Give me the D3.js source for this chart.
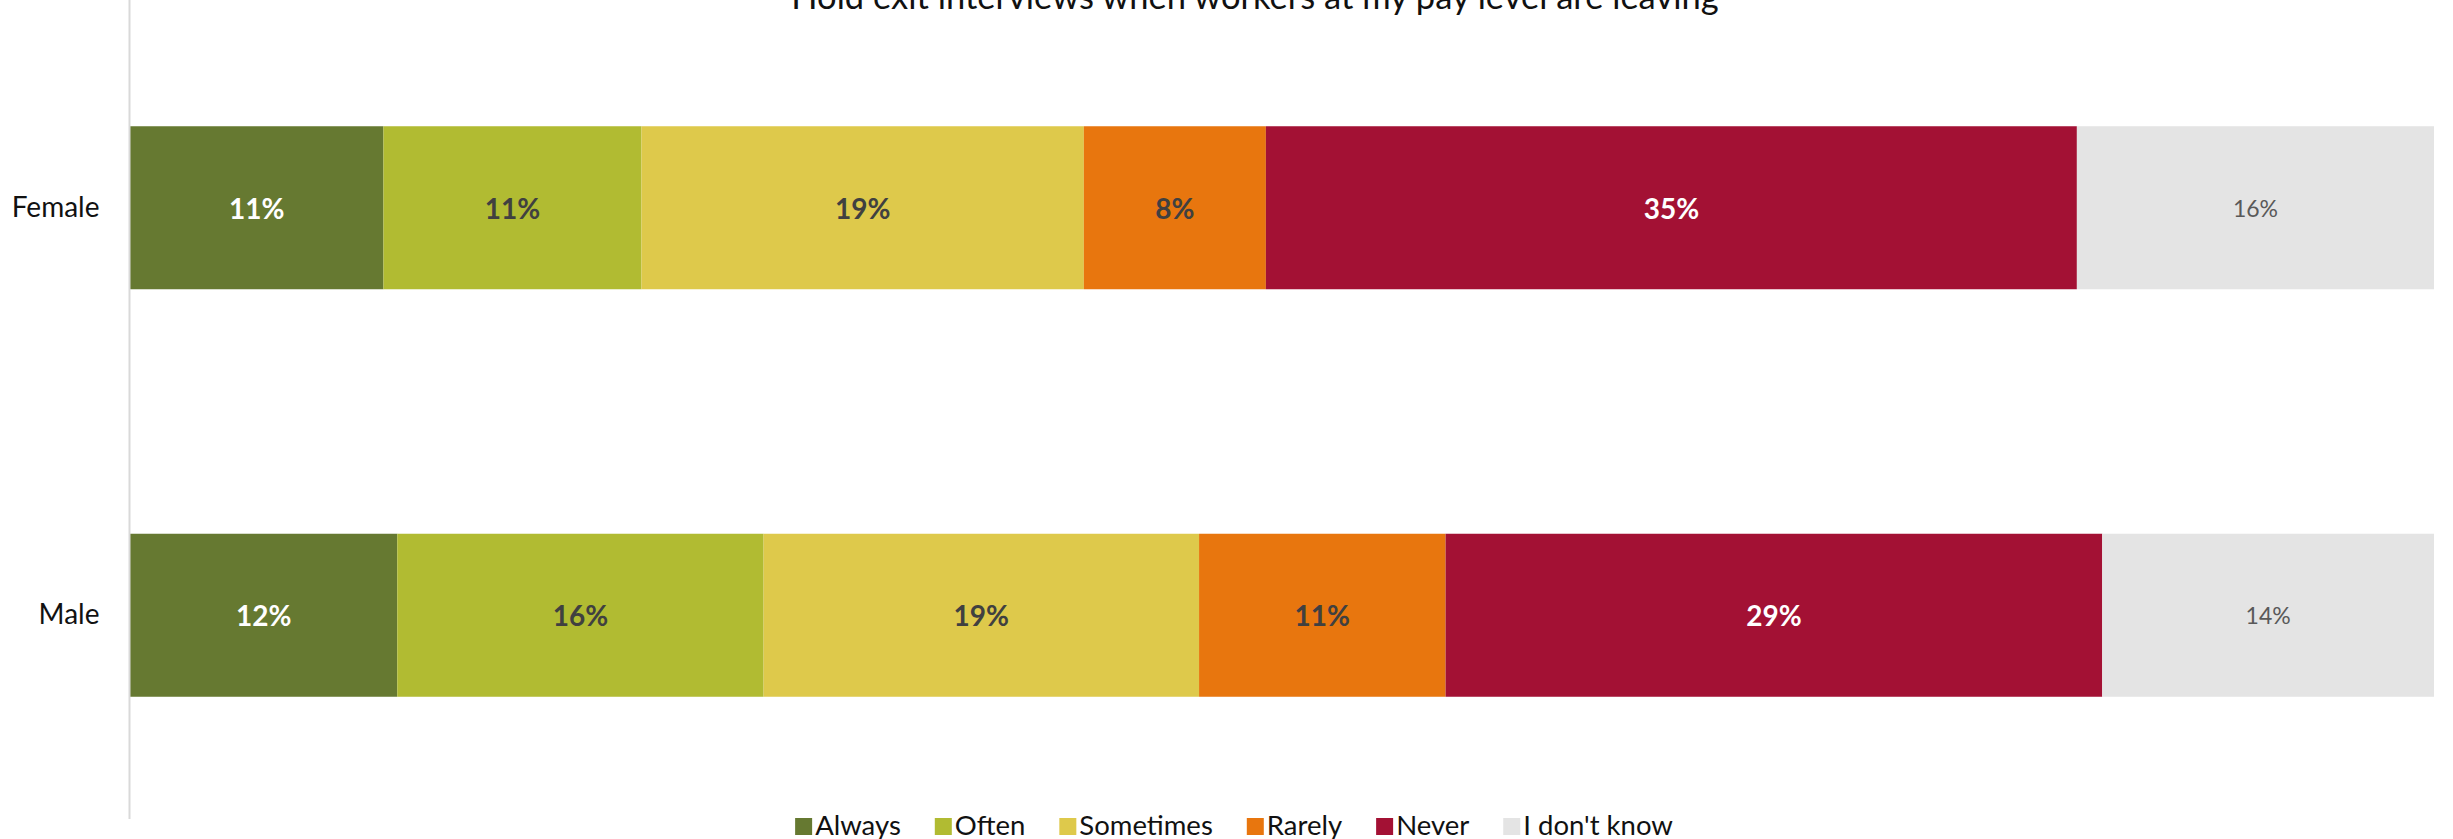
<!DOCTYPE html>
<html>
<head>
<meta charset="utf-8">
<script src="https://cdn.jsdelivr.net/npm/d3@7"></script>
<style>
  html, body { margin: 0; padding: 0; background: #fff; }
  svg { display: block; font-family: Lato, "Open Sans", sans-serif; }
</style>
</head>
<body>
<svg id="chart" width="2453" height="839"></svg>
<script>
const title = "Hold exit interviews when workers at my pay level are leaving";
const categories = ["Female", "Male"];
const seriesNames = ["Always", "Often", "Sometimes", "Rarely", "Never", "I don't know"];
const alwaysValues = [11.0, 11.6];
const oftenValues = [11.2, 15.9];
const sometimesValues = [19.2, 18.9];
const rarelyValues = [7.9, 10.7];
const neverValues = [35.2, 28.5];
const dontKnowValues = [15.5, 14.4];
const seriesColors = ["#667931", "#b1bb32", "#dec94b", "#e8760e", "#a31134", "#e4e4e4"];
const labelColors = ["#ffffff", "#404040", "#404040", "#404040", "#ffffff", "#595959"];

const seriesValues = [alwaysValues, oftenValues, sometimesValues, rarelyValues, neverValues, dontKnowValues];
const rows = categories.map((c, i) => {
  const r = { category: c };
  seriesNames.forEach((s, j) => r[s] = seriesValues[j][i]);
  return r;
});

const svg = d3.select("#chart");
const x = d3.scaleLinear().domain([0, 100]).range([130, 2434]);
const y = d3.scaleBand().domain(categories).range([4, 819]).paddingInner(0.6).paddingOuter(0.3);

const stacked = d3.stack().keys(seriesNames)(rows);

// bars
const layers = svg.append("g").selectAll("g").data(stacked).join("g")
  .attr("fill", (d, i) => seriesColors[i]);
layers.selectAll("rect").data(d => d).join("rect")
  .attr("x", d => x(d[0]))
  .attr("y", d => y(d.data.category))
  .attr("width", d => x(d[1]) - x(d[0]))
  .attr("height", y.bandwidth());

// labels
const lab = svg.append("g").selectAll("g").data(stacked).join("g");
lab.each(function(layer, i) {
  d3.select(this).selectAll("text").data(layer).join("text")
    .attr("x", d => (x(d[0]) + x(d[1])) / 2)
    .attr("y", d => y(d.data.category) + y.bandwidth() / 2)
    .attr("text-anchor", "middle")
    .attr("dominant-baseline", "central")
    .attr("fill", labelColors[i])
    .attr("font-size", i === 5 ? 23 : 28)
    .attr("font-weight", i === 5 ? 400 : 700)
    .text(d => Math.round(d[1] - d[0]) + "%");
});

// y axis
const yAxis = d3.axisLeft(y).tickSize(0).tickPadding(30);
const ga = svg.append("g").attr("transform", "translate(129.5,0)").call(yAxis);
ga.select(".domain").attr("stroke", "#d9d9d9").attr("stroke-width", 2).attr("d", "M0,0V819");
ga.selectAll("text").attr("font-size", 28).attr("fill", "#111").attr("font-family", "Lato, sans-serif");

// title
svg.append("text")
  .attr("x", 1255).attr("y", 9)
  .attr("text-anchor", "middle")
  .attr("font-size", 34.5)
  .attr("fill", "#111")
  .text(title);

// legend
const legend = svg.append("g");
const items = legend.selectAll("g").data(seriesNames).join("g");
items.append("rect").attr("width", 17).attr("height", 17).attr("y", 818)
  .attr("fill", (d, i) => seriesColors[i]);
items.append("text").attr("x", 20).attr("y", 835)
  .attr("font-size", 27.5).attr("fill", "#111").text(d => d);
let pos = 0;
const offsets = [];
items.each(function() {
  offsets.push(pos);
  pos += this.querySelector("text").getComputedTextLength() + 20 + 34;
});
const total = pos - 34;
const start = 1234 - total / 2;
items.attr("transform", (d, i) => `translate(${start + offsets[i]},0)`);
</script>
</body>
</html>
